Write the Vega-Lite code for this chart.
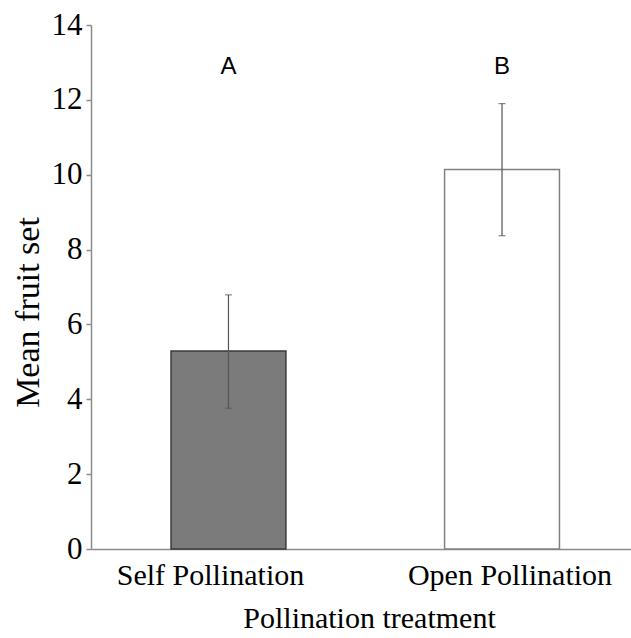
{
  "$schema": "https://vega.github.io/schema/vega-lite/v6.json",
  "width": 540,
  "height": 524,
  "autosize": "none",
  "padding": {"left": 91, "top": 25, "right": 0, "bottom": 89},
  "background": "white",
  "config": {
    "view": {"stroke": null},
    "axis": {
      "grid": false,
      "domainColor": "#8c8c8c",
      "domainWidth": 1.5,
      "labelFont": "Liberation Serif",
      "labelColor": "#000000",
      "labelLimit": 0,
      "titleFont": "Liberation Serif",
      "titleColor": "#000000",
      "titleFontWeight": "normal"
    }
  },
  "data": {
    "values": [
      {"treatment": "Self Pollination", "mean": 5.29, "lower": 3.76, "upper": 6.79, "group": "A"},
      {"treatment": "Open Pollination", "mean": 10.14, "lower": 8.37, "upper": 11.9, "group": "B"}
    ]
  },
  "encoding": {
    "x": {
      "field": "treatment",
      "type": "nominal",
      "sort": ["Self Pollination", "Open Pollination"],
      "scale": {"paddingInner": 0.58, "paddingOuter": 0.277, "align": 0.528},
      "axis": {
        "title": "Pollination treatment",
        "labelAngle": 0,
        "ticks": false,
        "tickSize": 0,
        "labelPadding": 35,
        "labelBaseline": "alphabetic",
        "labelFontSize": 30,
        "labelOffset": {"expr": "datum.value === 'Self Pollination' ? -18 : 8"},
        "titleFontSize": 30,
        "titleY": 78,
        "titleX": 278,
        "titleBaseline": "alphabetic"
      }
    }
  },
  "layer": [
    {
      "mark": {"type": "bar", "strokeWidth": 1.5},
      "encoding": {
        "y": {
          "field": "mean",
          "type": "quantitative",
          "title": "Mean fruit set",
          "scale": {"domain": [0, 14], "nice": false},
          "axis": {
            "values": [0, 2, 4, 6, 8, 10, 12, 14],
            "tickColor": "#8c8c8c",
            "tickSize": 5,
            "tickWidth": 1.5,
            "labelFontSize": 31,
            "labelPadding": 4,
            "labelBaseline": "middle",
            "titleFontSize": 34,
            "titleAngle": -90,
            "titleX": -63,
            "titleY": 287,
            "titleBaseline": "middle",
            "titleAlign": "center"
          }
        },
        "fill": {
          "field": "treatment",
          "type": "nominal",
          "scale": {"domain": ["Self Pollination", "Open Pollination"], "range": ["#7b7b7b", "#ffffff"]},
          "legend": null
        },
        "stroke": {
          "field": "treatment",
          "type": "nominal",
          "scale": {"domain": ["Self Pollination", "Open Pollination"], "range": ["#3a3a3a", "#808080"]},
          "legend": null
        }
      }
    },
    {
      "mark": {"type": "rule", "color": "#555555", "strokeWidth": 1.2},
      "encoding": {
        "y": {"field": "lower", "type": "quantitative", "title": "Mean fruit set"},
        "y2": {"field": "upper"}
      }
    },
    {
      "mark": {"type": "tick", "color": "#555555", "size": 7, "thickness": 1.2},
      "encoding": {
        "y": {"field": "lower", "type": "quantitative", "title": "Mean fruit set"}
      }
    },
    {
      "mark": {"type": "tick", "color": "#555555", "size": 7, "thickness": 1.2},
      "encoding": {
        "y": {"field": "upper", "type": "quantitative", "title": "Mean fruit set"}
      }
    },
    {
      "mark": {"type": "text", "font": "Liberation Sans", "fontSize": 24, "color": "#000000", "baseline": "middle"},
      "encoding": {
        "y": {"datum": 12.88, "type": "quantitative", "title": "Mean fruit set"},
        "text": {"field": "group", "type": "nominal"}
      }
    }
  ]
}
